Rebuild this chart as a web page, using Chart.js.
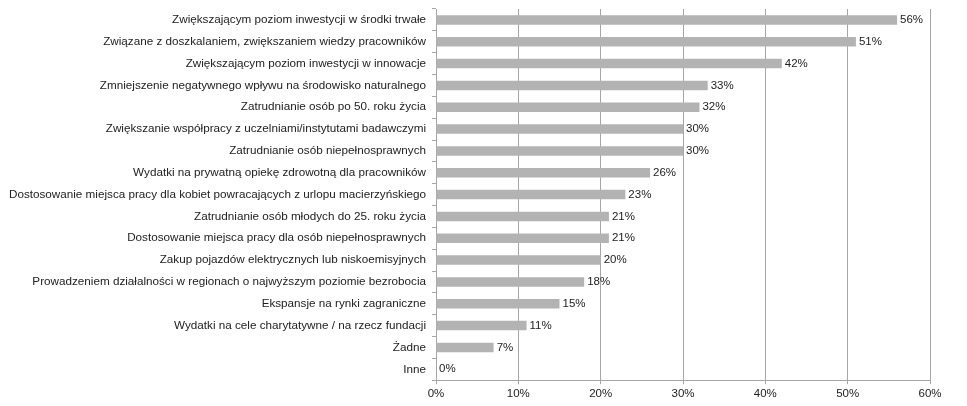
<!DOCTYPE html>
<html>
<head>
<meta charset="utf-8">
<script src="https://cdn.jsdelivr.net/npm/chart.js@4/dist/chart.umd.min.js"></script>
<style>
  html, body { margin: 0; padding: 0; background: #fff; }
  #wrap { width: 967px; height: 406px; }
</style>
</head>
<body>
<div id="wrap"><canvas id="myChart"></canvas></div>
<script>
// ----- dane -----
var kategorie = [
  'Zwiększającym poziom inwestycji w środki trwałe',
  'Związane z doszkalaniem, zwiększaniem wiedzy pracowników',
  'Zwiększającym poziom inwestycji w innowacje',
  'Zmniejszenie negatywnego wpływu na środowisko naturalnego',
  'Zatrudnianie osób po 50. roku życia',
  'Zwiększanie współpracy z uczelniami/instytutami badawczymi',
  'Zatrudnianie osób niepełnosprawnych',
  'Wydatki na prywatną opiekę zdrowotną dla pracowników',
  'Dostosowanie miejsca pracy dla kobiet powracających z urlopu macierzyńskiego',
  'Zatrudnianie osób młodych do 25. roku życia',
  'Dostosowanie miejsca pracy dla osób niepełnosprawnych',
  'Zakup pojazdów elektrycznych lub niskoemisyjnych',
  'Prowadzeniem działalności w regionach o najwyższym poziomie bezrobocia',
  'Ekspansje na rynki zagraniczne',
  'Wydatki na cele charytatywne / na rzecz fundacji',
  'Żadne',
  'Inne'
];
var wartosci = [56, 51, 42, 33, 32, 30, 30, 26, 23, 21, 21, 20, 18, 15, 11, 7, 0];
var osX = { min: 0, max: 60, krok: 10 };

var czcionka = '"Liberation Sans", Arial, sans-serif';

// etykiety wartości przy końcach słupków
const etykietyWartosci = {
  id: 'etykietyWartosci',
  afterDatasetsDraw(chart) {
    const ctx = chart.ctx;
    const meta = chart.getDatasetMeta(0);
    ctx.save();
    ctx.font = '11.5px ' + czcionka;
    ctx.fillStyle = '#222';
    ctx.textBaseline = 'middle';
    ctx.textAlign = 'left';
    meta.data.forEach(function (bar, i) {
      ctx.fillText(wartosci[i] + '%', bar.x + 3, bar.y);
    });
    ctx.restore();
  }
};

const config = {
  type: 'bar',
  data: {
    labels: kategorie,
    datasets: [{
      data: wartosci,
      backgroundColor: '#b3b3b3',
      borderWidth: 0,
      barPercentage: 0.7,
      categoryPercentage: 0.62
    }]
  },
  options: {
    indexAxis: 'y',
    responsive: true,
    maintainAspectRatio: false,
    animation: false,
    layout: { padding: { top: 9, right: 37, bottom: 2, left: 0 } },
    scales: {
      x: {
        min: osX.min,
        max: osX.max,
        ticks: {
          stepSize: osX.krok,
          callback: function (v) { return v + '%'; },
          color: '#222',
          font: { size: 11.5, family: czcionka },
          padding: 3
        },
        grid: { color: '#a6a6a6', tickLength: 4, lineWidth: 1 },
        border: { color: '#a6a6a6' }
      },
      y: {
        afterFit: function (scale) {
          scale.width = 436;
          scale.paddingTop = 0;
        },
        ticks: {
          color: '#222',
          font: { size: 11.7, family: czcionka },
          padding: 6,
          autoSkip: false
        },
        grid: { drawOnChartArea: false, color: '#a6a6a6', tickLength: 4, offset: true },
        border: { color: '#a6a6a6' }
      }
    },
    plugins: {
      legend: { display: false },
      tooltip: { enabled: false }
    }
  },
  plugins: [etykietyWartosci]
};

const myChart = new Chart(document.getElementById('myChart').getContext('2d'), config);
</script>
</body>
</html>
